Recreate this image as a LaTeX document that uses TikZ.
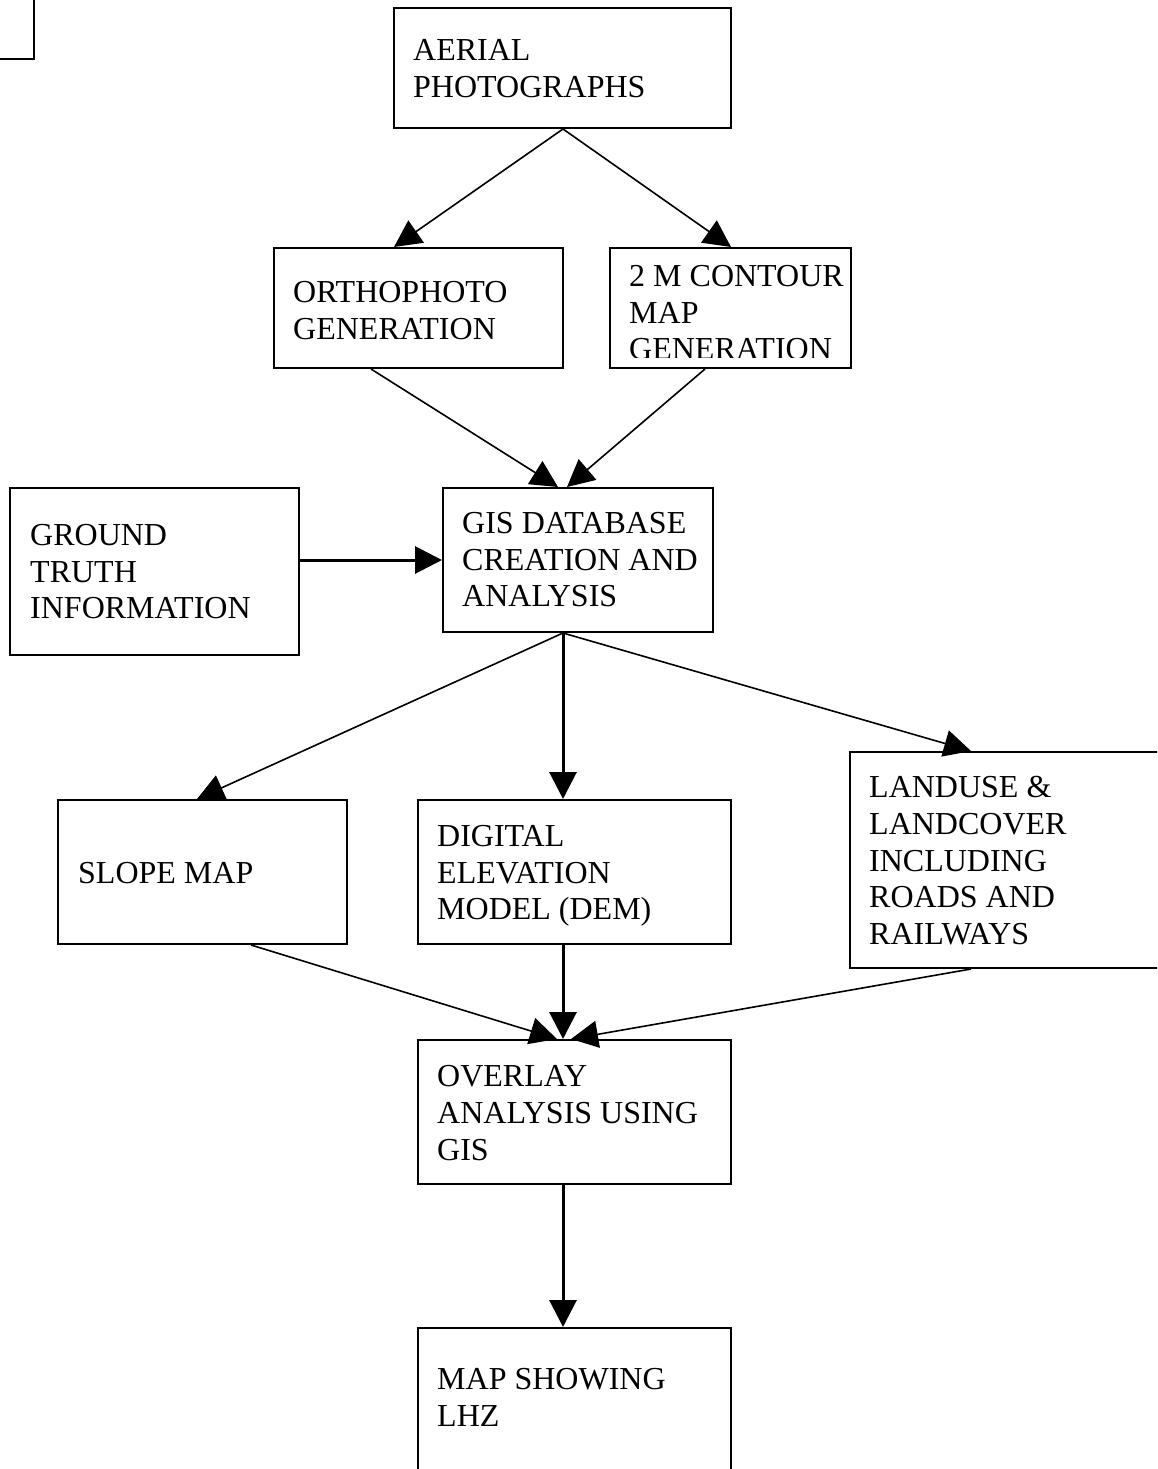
\documentclass[tikz,border=0pt]{standalone}
\usepackage{fontspec}
\setmainfont{Liberation Serif}
\usetikzlibrary{arrows.meta}
\begin{document}
\begin{tikzpicture}[x=1pt,y=-1pt,
  box/.style={draw, line width=2pt, rectangle, inner sep=0pt, anchor=north west},
  txt/.style={anchor=north west, inner sep=0pt, align=left, font=\fontsize{32}{36.8}\selectfont},
  thinarrow/.style={line width=1.6pt, -{Triangle[length=27pt,width=27pt]}},
  thickarrow/.style={line width=3pt, -{Triangle[length=27pt,width=27pt]}}]
\useasboundingbox (0,0) rectangle (1157,1469);
\clip (0,0) rectangle (1157,1469);
\fill[white] (0,0) rectangle (1157,1469);
% boxes
\node[box, anchor=south east, minimum width=100pt, minimum height=100pt] (tl) at (35,60) {};
\node[box, minimum width=337pt, minimum height=120pt] (aer) at (393,7) {};
\node[box, minimum width=289pt, minimum height=120pt] (ortho) at (273,247) {};
\node[box, minimum width=241pt, minimum height=120pt] (cont) at (609,247) {};
\node[box, minimum width=289pt, minimum height=167pt] (ground) at (9,487) {};
\node[box, minimum width=270pt, minimum height=144pt] (gis) at (442,487) {};
\node[box, minimum width=289pt, minimum height=144pt] (slope) at (57,799) {};
\node[box, minimum width=313pt, minimum height=144pt] (dem) at (417,799) {};
\node[box, minimum width=400pt, minimum height=216pt] (land) at (849,751) {};
\node[box, minimum width=313pt, minimum height=144pt] (over) at (417,1039) {};
\node[box, minimum width=313pt, minimum height=200pt] (map) at (417,1327) {};
% texts
\node[txt] (aert) at (413,39) {AERIAL\\PHOTOGRAPHS};
\node[txt] (orthot) at (293,281) {ORTHOPHOTO\\GENERATION};
\begin{scope}
\clip (609,247) rectangle (850,357);
\node[txt] (contt) at (629,265) {2 M CONTOUR\\MAP\\GENERATION};
\end{scope}
\node[txt] (groundt) at (30,524) {GROUND\\TRUTH\\INFORMATION};
\node[txt] (gist) at (462,512) {GIS DATABASE\\CREATION AND\\ANALYSIS};
\node[txt] (slopet) at (78,862) {SLOPE MAP};
\node[txt] (demt) at (437,825) {DIGITAL\\ELEVATION\\MODEL (DEM)};
\node[txt] (landt) at (869,776) {LANDUSE \&\\LANDCOVER\\INCLUDING\\ROADS AND\\RAILWAYS};
\node[txt] (overt) at (437,1065) {OVERLAY\\ANALYSIS USING\\GIS};
\node[txt] (mapt) at (437,1368) {MAP SHOWING\\LHZ};
% connectors
\draw[thinarrow] ([xshift=0.5pt]aer.south) -- ([xshift=-24.5pt]ortho.north);
\draw[thinarrow] ([xshift=0.5pt]aer.south) -- ([xshift=0.5pt]cont.north);
\draw[thinarrow] ([xshift=-47.5pt]ortho.south) -- ([xshift=-20pt]gis.north);
\draw[thinarrow] ([xshift=-25.5pt]cont.south) -- ([xshift=-11pt]gis.north);
\draw[thickarrow] ([yshift=11.5pt]ground.east) -- (gis.west);
\draw[thinarrow] ([xshift=-15pt]gis.south) -- ([xshift=-5.5pt]slope.north);
\draw[thickarrow] ([xshift=-15pt]gis.south) -- ([xshift=-11.5pt]dem.north);
\draw[thinarrow] ([xshift=-15pt]gis.south) -- ([xshift=-79pt]land.north);
\draw[thinarrow] ([xshift=48.5pt]slope.south) -- ([xshift=-17.5pt]over.north);
\draw[thickarrow] ([xshift=-11.5pt]dem.south) -- ([xshift=-11.5pt]over.north);
\draw[thinarrow] ([xshift=-79pt]land.south) -- ([xshift=-3.5pt]over.north);
\draw[thickarrow] ([xshift=-11.5pt]over.south) -- ([xshift=-11.5pt]map.north);
\end{tikzpicture}
\end{document}
